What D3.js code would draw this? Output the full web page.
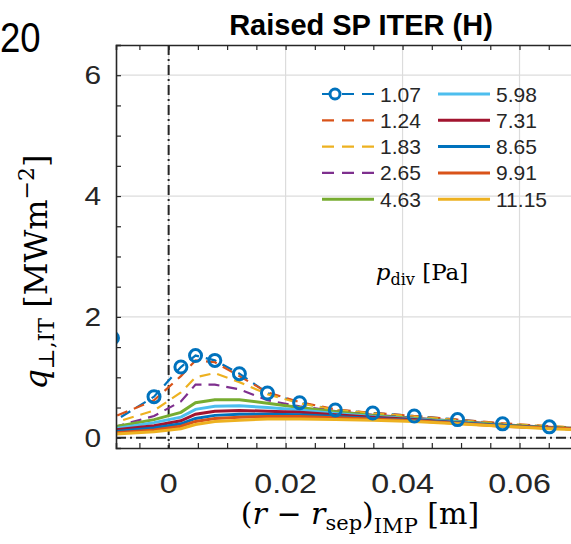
<!DOCTYPE html>
<html>
  <head>
    <meta charset="UTF-8" />
    <script src="https://d3js.org/d3.v7.min.js"></script>
    <style>
      body { margin: 0; background: #fff; }
      text { font-family: "Liberation Sans", Arial, sans-serif; fill: #262626; }
      .math { font-family: "DejaVu Serif", "Liberation Serif", serif; }
    </style>
  </head>
  <body>
    <div id="my_dataviz"></div>

    <script>
      var width = 571,
        height = 544;

      // radial coordinate (r - r_sep) at the IMP [m]
      const rPos = [-0.0096, -0.0092, -0.0025, 0.0021, 0.0046, 0.0079, 0.0121, 0.0169,
        0.0224, 0.0285, 0.0349, 0.042, 0.0494, 0.0571, 0.0651, 0.074];

      // divertor pressure for each profile [Pa]
      const pDiv = ["1.07", "1.24", "1.83", "2.65", "4.63", "5.98", "7.31", "8.65", "9.91", "11.15"];

      // q_perp at the inner target [MW m^-2]
      const q107 = [1.65, 0.28, 0.68, 1.17, 1.36, 1.28, 1.06, 0.74, 0.58, 0.46, 0.41, 0.36, 0.30, 0.23, 0.18, 0.14];
      const q124 = [1.20, 0.35, 0.62, 1.02, 1.28, 1.25, 1.02, 0.75, 0.59, 0.47, 0.41, 0.36, 0.30, 0.24, 0.19, 0.15];
      const q183 = [0.70, 0.25, 0.45, 0.75, 1.00, 1.07, 0.92, 0.72, 0.57, 0.46, 0.40, 0.35, 0.29, 0.23, 0.19, 0.15];
      const q265 = [0.50, 0.18, 0.36, 0.60, 0.88, 0.88, 0.80, 0.62, 0.52, 0.44, 0.38, 0.33, 0.28, 0.22, 0.18, 0.14];
      const q463 = [0.45, 0.18, 0.30, 0.42, 0.58, 0.63, 0.63, 0.57, 0.50, 0.43, 0.37, 0.32, 0.27, 0.21, 0.17, 0.14];
      const q598 = [0.38, 0.15, 0.25, 0.34, 0.47, 0.52, 0.53, 0.50, 0.46, 0.40, 0.35, 0.31, 0.26, 0.20, 0.16, 0.13];
      const q731 = [0.32, 0.13, 0.20, 0.28, 0.39, 0.44, 0.45, 0.44, 0.42, 0.38, 0.34, 0.30, 0.25, 0.20, 0.16, 0.13];
      const q865 = [0.28, 0.10, 0.16, 0.23, 0.32, 0.37, 0.39, 0.39, 0.38, 0.35, 0.32, 0.29, 0.25, 0.20, 0.16, 0.13];
      const q991 = [0.25, 0.08, 0.13, 0.19, 0.27, 0.32, 0.34, 0.35, 0.35, 0.33, 0.31, 0.28, 0.24, 0.19, 0.16, 0.13];
      const q1115 = [0.20, 0.06, 0.10, 0.15, 0.22, 0.27, 0.29, 0.31, 0.31, 0.30, 0.29, 0.27, 0.23, 0.19, 0.15, 0.12];

      const xTicks = [0, 0.02, 0.04, 0.06];
      const yTicks = [0, 2, 4, 6];

      var qAll = [q107, q124, q183, q265, q463, q598, q731, q865, q991, q1115];
      var colors = ["#0072BD", "#D95319", "#EDB120", "#7E2F8E", "#77AC30",
        "#4DBEEE", "#A2142F", "#0072BD", "#D95319", "#EDB120"];
      var dashed = [true, true, true, true, false, false, false, false, false, false];

      var series = pDiv.map((p, k) => ({
        name: p,
        color: colors[k],
        dashed: dashed[k],
        values: rPos.map((r, i) => ({ r: r, q: qAll[k][i] })),
      }));

      var svg = d3
        .select("#my_dataviz")
        .append("svg")
        .attr("width", width)
        .attr("height", height);

      var xScale = d3.scaleLinear().domain([-0.009, 0.07]).range([116, 578]);
      var yScale = d3.scaleLinear().domain([-0.17, 6.5]).range([448, 45]);

      svg.append("clipPath").attr("id", "plotclip")
        .append("rect")
        .attr("x", 116).attr("y", 45)
        .attr("width", 462).attr("height", 403);

      // grid
      svg.append("g")
        .selectAll("line.gx")
        .data(xTicks)
        .join("line")
        .attr("x1", d => xScale(d)).attr("x2", d => xScale(d))
        .attr("y1", 45).attr("y2", 448)
        .attr("stroke", "#dcdcdc").attr("stroke-width", 1.2);
      svg.append("g")
        .selectAll("line.gy")
        .data(yTicks)
        .join("line")
        .attr("y1", d => yScale(d)).attr("y2", d => yScale(d))
        .attr("x1", 116).attr("x2", 578)
        .attr("stroke", "#dcdcdc").attr("stroke-width", 1.2);

      // separatrix and zero lines
      svg.append("line")
        .attr("x1", xScale(0)).attr("x2", xScale(0))
        .attr("y1", 45).attr("y2", 448)
        .attr("stroke", "#262626").attr("stroke-width", 2)
        .attr("stroke-dasharray", "10,4,2,4");
      svg.append("line")
        .attr("x1", 116).attr("x2", 578)
        .attr("y1", yScale(0)).attr("y2", yScale(0))
        .attr("stroke", "#262626").attr("stroke-width", 2)
        .attr("stroke-dasharray", "10,4,2,4");

      var lineGen = d3.line()
        .x(d => xScale(d.r))
        .y(d => yScale(d.q));

      var plot = svg.append("g").attr("clip-path", "url(#plotclip)");

      plot.selectAll("path.series")
        .data(series)
        .join("path")
        .attr("fill", "none")
        .attr("stroke", d => d.color)
        .attr("stroke-width", d => (d.dashed ? 2.2 : 3))
        .attr("stroke-dasharray", d => (d.dashed ? "11,7" : null))
        .attr("d", d => lineGen(d.values));

      // circle markers of the lowest pressure case (2nd point sits behind the axis)
      plot.selectAll("circle.mk")
        .data(series[0].values.filter((d, i) => i !== 1))
        .join("circle")
        .attr("cx", d => xScale(d.r))
        .attr("cy", d => yScale(d.q))
        .attr("r", 6)
        .attr("fill", "none")
        .attr("stroke", series[0].color)
        .attr("stroke-width", 3);

      // axes box with inward ticks
      var xAxis = svg.append("g").attr("transform", "translate(0,448)")
        .call(d3.axisTop(xScale).tickValues(d3.range(-0.005, 0.0701, 0.005)).tickSize(5).tickFormat(""));
      var xAxisTop = svg.append("g").attr("transform", "translate(0,45)")
        .call(d3.axisBottom(xScale).tickValues(d3.range(-0.005, 0.0701, 0.005)).tickSize(5).tickFormat(""));
      var yAxis = svg.append("g").attr("transform", "translate(116,0)")
        .call(d3.axisRight(yScale).tickValues(d3.range(0, 6.51, 0.5)).tickSize(5).tickFormat(""));
      [xAxis, xAxisTop, yAxis].forEach(g => {
        g.selectAll("path").attr("stroke", "#262626").attr("stroke-width", 1.6);
        g.selectAll("line").attr("stroke", "#262626").attr("stroke-width", 1.2);
      });

      // tick labels
      svg.append("g")
        .selectAll("text")
        .data(xTicks)
        .join("text")
        .attr("text-anchor", "middle")
        .attr("transform", d => "translate(" + xScale(d) + ",493) scale(1.15,1)")
        .style("font-size", "28px")
        .text(d => (d === 0 ? "0" : d3.format(".2f")(d)));
      svg.append("g")
        .selectAll("text")
        .data(yTicks)
        .join("text")
        .attr("text-anchor", "end")
        .attr("transform", d => "translate(101," + (yScale(d) + 9) + ") scale(1.15,1)")
        .style("font-size", "26px")
        .text(d => d);

      // title and cropped panel number
      svg.append("text")
        .attr("x", 361).attr("y", 35)
        .attr("text-anchor", "middle")
        .style("font-size", "29px")
        .style("font-weight", "bold")
        .style("fill", "#000")
        .text("Raised SP ITER (H)");
      svg.append("text")
        .attr("transform", "translate(0,52) scale(0.85,1)")
        .style("font-size", "43px")
        .style("fill", "#000")
        .text("20");

      // axis labels
      var yLab = svg.append("text")
        .attr("class", "math")
        .attr("transform", "translate(47,272) rotate(-90)")
        .attr("text-anchor", "middle")
        .style("font-size", "32px")
        .style("fill", "#000");
      yLab.append("tspan").style("font-style", "italic").text("q");
      yLab.append("tspan").attr("dy", 7).style("font-size", "22px").text("⊥,IT");
      yLab.append("tspan").attr("dy", -7).text(" [MWm");
      yLab.append("tspan").attr("dy", -13).style("font-size", "22px").text("−2");
      yLab.append("tspan").attr("dy", 13).text("]");

      var xLab = svg.append("text")
        .attr("class", "math")
        .attr("transform", "translate(360,524)")
        .attr("text-anchor", "middle")
        .style("font-size", "30px")
        .style("fill", "#000");
      xLab.append("tspan").text("(");
      xLab.append("tspan").style("font-style", "italic").text("r");
      xLab.append("tspan").text(" − ");
      xLab.append("tspan").style("font-style", "italic").text("r");
      xLab.append("tspan").attr("dy", 6).style("font-size", "21px").text("sep");
      xLab.append("tspan").attr("dy", -6).text(")");
      xLab.append("tspan").attr("dy", 9).style("font-size", "21px").text("IMP");
      xLab.append("tspan").attr("dy", -9).text(" [m]");

      var pLab = svg.append("text")
        .attr("class", "math")
        .attr("transform", "translate(422,280)")
        .attr("text-anchor", "middle")
        .style("font-size", "23px")
        .style("fill", "#000");
      pLab.append("tspan").style("font-style", "italic").text("p");
      pLab.append("tspan").attr("dy", 5).style("font-size", "16px").text("div");
      pLab.append("tspan").attr("dy", -5).text(" [Pa]");

      // legend, two columns of five
      var legend = svg.append("g")
        .selectAll("g")
        .data(series)
        .join("g")
        .attr("transform", (d, i) =>
          "translate(" + (i < 5 ? 322 : 438) + "," + (94 + (i % 5) * 26.3) + ")");
      legend.append("line")
        .attr("x1", 0).attr("x2", 52)
        .attr("stroke", d => d.color)
        .attr("stroke-width", d => (d.dashed ? 2.2 : 3))
        .attr("stroke-dasharray", d => (d.dashed ? "12,8" : null));
      legend.filter((d, i) => i === 0)
        .append("circle")
        .attr("cx", 13).attr("r", 5)
        .attr("fill", "#fff")
        .attr("stroke", d => d.color)
        .attr("stroke-width", 3);
      legend.append("text")
        .attr("x", 58).attr("y", 7.5)
        .style("font-size", "21px")
        .text(d => d.name);
    </script>
  </body>
</html>
